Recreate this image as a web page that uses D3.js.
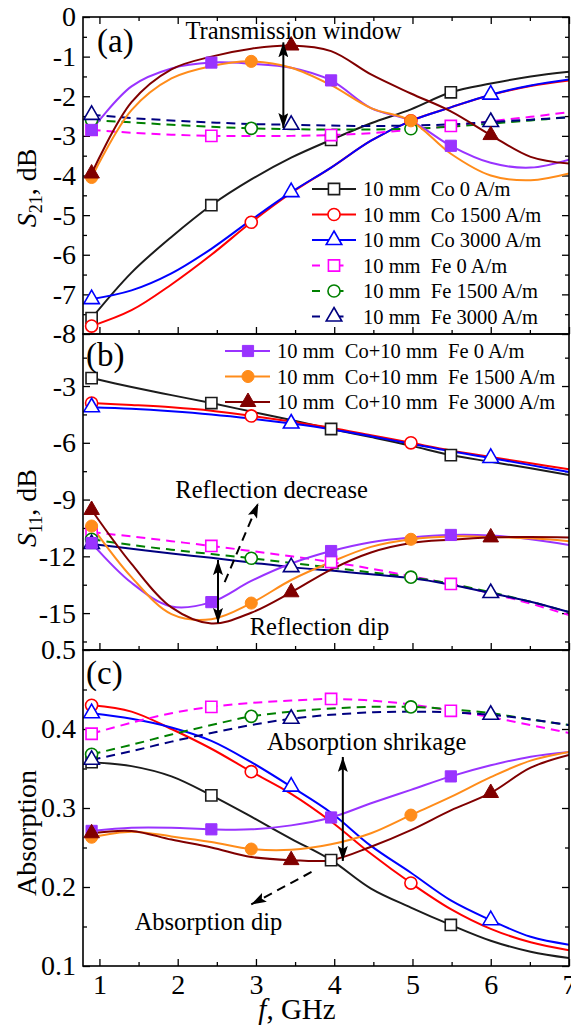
<!DOCTYPE html>
<html>
<head>
<meta charset="utf-8">
<script src="https://cdn.jsdelivr.net/npm/d3@7"></script>
<style>
body { margin:0; background:#fff; }
svg text { font-family:"Liberation Serif","Times New Roman",serif; fill:#000; white-space:pre; }
</style>
</head>
<body>
<svg id="chart" width="571" height="1025"></svg>
<script>

// frequency grid (GHz), same for every curve
var freq = [0.9, 1.41, 1.92, 2.43, 2.94, 3.45, 3.96, 4.47, 4.98, 5.49, 6.0, 6.51, 7.0];

// (a) S21, dB
var s21_co0      = [-7.6, -6.45, -5.55, -4.75, -4.1, -3.55, -3.1, -2.68, -2.33, -1.9, -1.68, -1.5, -1.38];
var s21_co1500   = [-7.8, -7.4, -6.75, -6.0, -5.18, -4.44, -3.8, -3.12, -2.62, -2.28, -1.97, -1.74, -1.6];
var s21_co3000   = [-7.12, -6.9, -6.47, -5.85, -5.12, -4.42, -3.8, -3.12, -2.62, -2.28, -1.96, -1.73, -1.58];
var s21_fe0      = [-2.85, -2.92, -2.97, -3.0, -3.0, -3.0, -2.98, -2.93, -2.85, -2.75, -2.63, -2.52, -2.4];
var s21_fe1500   = [-2.6, -2.66, -2.72, -2.77, -2.81, -2.83, -2.84, -2.84, -2.82, -2.77, -2.69, -2.61, -2.53];
var s21_fe3000   = [-2.47, -2.55, -2.61, -2.66, -2.7, -2.72, -2.74, -2.75, -2.74, -2.71, -2.65, -2.59, -2.53];
var s21_cofe0    = [-2.85, -1.75, -1.3, -1.15, -1.18, -1.28, -1.6, -2.3, -2.62, -3.25, -3.68, -3.8, -3.6];
var s21_cofe1500 = [-4.05, -2.35, -1.55, -1.24, -1.12, -1.28, -1.72, -2.3, -2.62, -3.45, -4.0, -4.12, -3.95];
var s21_cofe3000 = [-3.95, -2.15, -1.32, -1.0, -0.8, -0.72, -0.86, -1.45, -1.93, -2.38, -2.98, -3.53, -3.7];

// (b) S11, dB
var s11_co0      = [-2.58, -3.05, -3.48, -3.9, -4.35, -4.8, -5.27, -5.7, -6.15, -6.65, -7.0, -7.35, -7.7];
var s11_co1500   = [-3.9, -4.0, -4.12, -4.3, -4.58, -4.88, -5.2, -5.6, -6.0, -6.4, -6.75, -7.08, -7.4];
var s11_co3000   = [-4.12, -4.2, -4.33, -4.5, -4.72, -4.98, -5.28, -5.65, -6.05, -6.45, -6.8, -7.18, -7.55];
var s11_fe0      = [-10.72, -10.95, -11.2, -11.45, -11.72, -12.0, -12.3, -12.65, -13.05, -13.46, -13.95, -14.5, -15.1];
var s11_fe1500   = [-11.1, -11.4, -11.65, -11.88, -12.1, -12.35, -12.6, -12.85, -13.1, -13.45, -13.9, -14.4, -14.95];
var s11_fe3000   = [-11.35, -11.6, -11.85, -12.08, -12.33, -12.57, -12.75, -12.95, -13.15, -13.5, -13.94, -14.4, -14.95];
var s11_cofe0    = [-11.3, -13.4, -14.65, -14.42, -13.3, -12.38, -11.72, -11.25, -11.0, -10.87, -10.9, -11.1, -11.4];
var s11_cofe1500 = [-10.4, -13.1, -15.05, -15.32, -14.47, -13.25, -12.3, -11.5, -11.1, -10.95, -10.98, -11.05, -11.2];
var s11_cofe3000 = [-9.55, -12.4, -14.7, -15.55, -14.98, -13.9, -12.7, -11.8, -11.3, -11.12, -11.0, -10.98, -11.0];

// (c) Absorption
var abs_co0      = [0.358, 0.353, 0.34, 0.316, 0.289, 0.261, 0.234, 0.198, 0.174, 0.152, 0.132, 0.118, 0.11];
var abs_co1500   = [0.43, 0.422, 0.4, 0.375, 0.346, 0.318, 0.283, 0.242, 0.205, 0.172, 0.147, 0.13, 0.12];
var abs_co3000   = [0.42, 0.413, 0.402, 0.385, 0.358, 0.327, 0.294, 0.252, 0.218, 0.183, 0.158, 0.137, 0.127];
var abs_fe0      = [0.394, 0.408, 0.42, 0.428, 0.433, 0.436, 0.438, 0.436, 0.431, 0.423, 0.415, 0.405, 0.395];
var abs_fe1500   = [0.368, 0.38, 0.393, 0.405, 0.416, 0.422, 0.426, 0.428, 0.428, 0.425, 0.42, 0.412, 0.405];
var abs_fe3000   = [0.361, 0.372, 0.384, 0.395, 0.405, 0.413, 0.418, 0.421, 0.422, 0.421, 0.418, 0.412, 0.405];
var abs_cofe0    = [0.271, 0.275, 0.275, 0.273, 0.273, 0.278, 0.288, 0.306, 0.323, 0.34, 0.354, 0.365, 0.371];
var abs_cofe1500 = [0.263, 0.27, 0.264, 0.257, 0.248, 0.247, 0.254, 0.268, 0.291, 0.314, 0.339, 0.36, 0.371];
var abs_cofe3000 = [0.268, 0.271, 0.26, 0.25, 0.238, 0.234, 0.234, 0.251, 0.272, 0.297, 0.319, 0.351, 0.367];

// legend labels
var seriesLabels = ['10 mm  Co 0 A/m', '10 mm  Co 1500 A/m', '10 mm  Co 3000 A/m',
                    '10 mm  Fe 0 A/m', '10 mm  Fe 1500 A/m', '10 mm  Fe 3000 A/m',
                    '10 mm  Co+10 mm  Fe 0 A/m', '10 mm  Co+10 mm  Fe 1500 A/m', '10 mm  Co+10 mm  Fe 3000 A/m'];

// tick values
var xTicks = [1, 2, 3, 4, 5, 6, 7];
var xMinor = [1.5, 2.5, 3.5, 4.5, 5.5, 6.5];
var aTicks = [-8, -7, -6, -5, -4, -3, -2, -1, 0];
var aMinor = [-7.5, -6.5, -5.5, -4.5, -3.5, -2.5, -1.5, -0.5];
var bTicks = [-15, -12, -9, -6, -3];
var bMinor = [-16.5, -13.5, -10.5, -7.5, -4.5, -1.5];
var cTicks = [0.1, 0.2, 0.3, 0.4, 0.5];
var cMinor = [0.15, 0.25, 0.35, 0.45];


var svg = d3.select('#chart');
var x = d3.scaleLinear().domain([0.79, 7]).range([83, 569]);

// style per series (same order as labels)
var styles = [
	{color:'#1c1c1c', dash:null, shape:'square',   fill:false, marks:[0,3,6,9]},
	{color:'#ff0000', dash:null, shape:'circle',   fill:false, marks:[0,4,8]},
	{color:'#0000ff', dash:null, shape:'triangle', fill:false, marks:[0,5,10]},
	{color:'#ff00ff', dash:'9,6', shape:'square',   fill:false, marks:[0,3,6,9]},
	{color:'#008000', dash:'9,6', shape:'circle',   fill:false, marks:[0,4,8]},
	{color:'#000080', dash:'9,6', shape:'triangle', fill:false, marks:[0,5,10]},
	{color:'#9933ff', dash:null, shape:'square',   fill:true,  marks:[0,3,6,9]},
	{color:'#ff8c1a', dash:null, shape:'circle',   fill:true,  marks:[0,4,8]},
	{color:'#800000', dash:null, shape:'triangle', fill:true,  marks:[0,5,10]}
];

var panels = [
	{id:'a', top:17,  bottom:334, domain:[-8, 0],
	 ticks:aTicks, minor:aMinor, fmt:function(d){return String(d);},
	 series:[s21_co0, s21_co1500, s21_co3000, s21_fe0, s21_fe1500, s21_fe3000, s21_cofe0, s21_cofe1500, s21_cofe3000]},
	{id:'b', top:334, bottom:650, domain:[-16.95, -0.25],
	 ticks:bTicks, minor:bMinor, fmt:function(d){return String(d);},
	 series:[s11_co0, s11_co1500, s11_co3000, s11_fe0, s11_fe1500, s11_fe3000, s11_cofe0, s11_cofe1500, s11_cofe3000]},
	{id:'c', top:650, bottom:966, domain:[0.1, 0.5],
	 ticks:cTicks, minor:cMinor, fmt:function(d){return d.toFixed(1);},
	 series:[abs_co0, abs_co1500, abs_co3000, abs_fe0, abs_fe1500, abs_fe3000, abs_cofe0, abs_cofe1500, abs_cofe3000]}
];

var symType = {square:d3.symbolSquare, circle:d3.symbolCircle, triangle:d3.symbolTriangle};
var symSize = {square:125, circle:115, triangle:105};

function symbolPath(shape) {
	return d3.symbol().type(symType[shape]).size(symSize[shape])();
}

function drawMarker(g, st, px, py) {
	g.append('path')
		.attr('d', symbolPath(st.shape))
		.attr('transform', 'translate(' + px + ',' + py + ')')
		.attr('fill', st.fill ? st.color : '#fff')
		.attr('stroke', st.color)
		.attr('stroke-width', st.fill ? 1 : 1.6);
}

// arrow heads
var defs = svg.append('defs');
defs.append('marker')
	.attr('id', 'head')
	.attr('markerUnits', 'userSpaceOnUse')
	.attr('markerWidth', 16).attr('markerHeight', 10)
	.attr('refX', 15).attr('refY', 5)
	.attr('orient', 'auto-start-reverse')
	.append('path').attr('d', 'M0,0 L15,5 L0,10 L3,5 Z').attr('fill', '#000');

panels.forEach(function (p) {
	var y = d3.scaleLinear().domain(p.domain).range([p.bottom, p.top]);
	p.y = y;

	defs.append('clipPath').attr('id', 'clip_' + p.id)
		.append('rect').attr('x', 83).attr('y', p.top).attr('width', 486).attr('height', p.bottom - p.top);

	var g = svg.append('g').attr('class', 'panel_' + p.id);

	// axes, ticks inward
	var left = g.append('g').attr('transform', 'translate(83,0)')
		.call(d3.axisLeft(y).tickValues(p.ticks).tickSize(-7).tickPadding(7).tickFormat(p.fmt));
	left.selectAll('text').attr('font-size', 28).attr('font-family', null);
	g.append('g').attr('transform', 'translate(83,0)')
		.call(d3.axisLeft(y).tickValues(p.minor).tickSize(-4).tickFormat(''));
	g.append('g').attr('transform', 'translate(569,0)')
		.call(d3.axisRight(y).tickValues(p.ticks).tickSize(-7).tickFormat(''));
	g.append('g').attr('transform', 'translate(569,0)')
		.call(d3.axisRight(y).tickValues(p.minor).tickSize(-4).tickFormat(''));

	var bottom = g.append('g').attr('transform', 'translate(0,' + p.bottom + ')')
		.call(d3.axisBottom(x).tickValues(xTicks).tickSize(-7).tickPadding(8)
			.tickFormat(p.id == 'c' ? function(d){return String(d);} : ''));
	bottom.selectAll('text').attr('font-size', 28).attr('font-family', null);
	g.append('g').attr('transform', 'translate(0,' + p.bottom + ')')
		.call(d3.axisBottom(x).tickValues(xMinor).tickSize(-4).tickFormat(''));
	if (p.id == 'a') {
		g.append('g').attr('transform', 'translate(0,' + p.top + ')')
			.call(d3.axisTop(x).tickValues(xTicks).tickSize(-7).tickFormat(''));
		g.append('g').attr('transform', 'translate(0,' + p.top + ')')
			.call(d3.axisTop(x).tickValues(xMinor).tickSize(-4).tickFormat(''));
	}
	g.selectAll('.domain').remove();
	g.selectAll('.tick line').attr('stroke', '#000').attr('stroke-width', 1.3);

	// curves
	var cg = g.append('g').attr('clip-path', 'url(#clip_' + p.id + ')');
	p.series.forEach(function (vals, si) {
		var st = styles[si];
		var dash = st.dash;
		if (p.id == 'b' && si == 5) dash = null;   // navy curve looks continuous in (b)
		var line = d3.line()
			.x(function (d, i) { return x(freq[i]); })
			.y(function (d) { return y(d); })
			.curve(d3.curveCatmullRom.alpha(0.5));
		cg.append('path')
			.attr('d', line(vals))
			.attr('fill', 'none')
			.attr('stroke', st.color)
			.attr('stroke-width', 2)
			.attr('stroke-dasharray', dash);
	});
	p.series.forEach(function (vals, si) {
		var st = styles[si];
		st.marks.forEach(function (i) {
			drawMarker(cg, st, x(freq[i]), y(vals[i]));
		});
	});

	// frame
	g.append('rect').attr('x', 83).attr('y', p.top).attr('width', 486).attr('height', p.bottom - p.top)
		.attr('fill', 'none').attr('stroke', '#000').attr('stroke-width', 1.6);
});

// legends
function legendRow(st, x0, x1, xm, ry, label, xt) {
	var lg = svg.append('g');
	lg.append('line').attr('x1', x0).attr('x2', x1).attr('y1', ry).attr('y2', ry)
		.attr('stroke', st.color).attr('stroke-width', 2)
		.attr('stroke-dasharray', st.dash ? '8,15.5' : null);
	drawMarker(lg, st, xm, ry);
	lg.append('text').attr('x', xt).attr('y', ry + 7).attr('font-size', 20.5).text(label);
}
var legA = [189, 214.5, 240, 265.5, 291, 316.5];
legA.forEach(function (ry, i) { legendRow(styles[i], 312, 356, 334, ry, seriesLabels[i], 363); });
var legB = [351, 376.5, 402];
legB.forEach(function (ry, i) { legendRow(styles[i + 6], 225, 270, 248, ry, seriesLabels[i + 6], 277); });

// annotations
var pa = panels[0], pb = panels[1], pc = panels[2];

function arrow(x1, y1, x2, y2, dashed, both) {
	svg.append('line').attr('x1', x1).attr('y1', y1).attr('x2', x2).attr('y2', y2)
		.attr('stroke', '#000').attr('stroke-width', 2)
		.attr('stroke-dasharray', dashed ? '9,6' : null)
		.attr('marker-end', 'url(#head)')
		.attr('marker-start', both ? 'url(#head)' : null);
}
function note(px, py, txt, anchor) {
	svg.append('text').attr('x', px).attr('y', py).attr('font-size', 24.5)
		.attr('text-anchor', anchor || 'start').text(txt);
}

note(x(3.48), pa.y(-0.56), 'Transmission window', 'middle');
arrow(x(3.35), pa.y(-0.64), x(3.35), pa.y(-2.8), false, true);

note(x(1.97), pb.y(-8.92), 'Reflection decrease');
arrow(x(2.6), pb.y(-13.36), x(3.03), pb.y(-9.18), true, false);
arrow(x(2.515), pb.y(-12.2), x(2.515), pb.y(-15.52), false, true);
note(x(2.92), pb.y(-16.16), 'Reflection dip');

note(x(3.14), pc.y(0.373), 'Absorption shrikage');
arrow(x(4.11), pc.y(0.3646), x(4.11), pc.y(0.233), false, true);
arrow(x(3.71), pc.y(0.219), x(2.94), pc.y(0.178), true, false);
note(x(1.45), pc.y(0.1456), 'Absorption dip');

// panel letters
svg.append('text').attr('x', 97).attr('y', 52).attr('font-size', 33).text('(a)');
svg.append('text').attr('x', 86).attr('y', 366).attr('font-size', 33).text('(b)');
svg.append('text').attr('x', 86).attr('y', 684).attr('font-size', 33).text('(c)');

// axis titles
function sTitle(cy, sub) {
	var t = svg.append('text').attr('transform', 'translate(36,' + cy + ') rotate(-90)')
		.attr('text-anchor', 'middle').attr('font-size', 28);
	t.append('tspan').attr('font-style', 'italic').text('S');
	t.append('tspan').attr('font-size', 18).attr('dy', 6).text(sub);
	t.append('tspan').attr('dy', -6).text(', dB');
}
sTitle(188, '21');
sTitle(508, '11');
svg.append('text').attr('transform', 'translate(36,833) rotate(-90)')
	.attr('text-anchor', 'middle').attr('font-size', 28).text('Absorption');

var xt = svg.append('text').attr('x', 297).attr('y', 1019).attr('text-anchor', 'middle').attr('font-size', 29);
xt.append('tspan').attr('font-style', 'italic').text('f');
xt.append('tspan').text(', GHz');

</script>
</body>
</html>
